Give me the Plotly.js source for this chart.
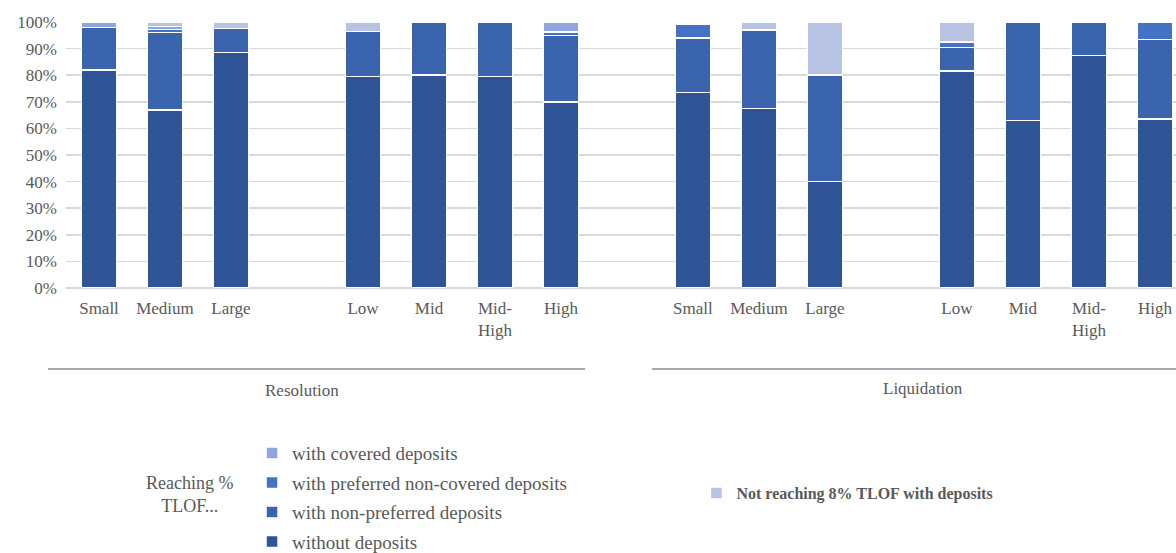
<!DOCTYPE html>
<html>
<head>
<meta charset="utf-8">
<script src="https://cdn.plot.ly/plotly-3.0.1.min.js"></script>
<style>html,body{margin:0;padding:0;background:#fff;}#chart{width:1176px;height:553px;}</style>
</head>
<body>
<div id="chart"></div>
<script>
// Category labels
const sizeCats = ['Small', 'Medium', 'Large'];
const riskCats = ['Low', 'Mid', 'Mid-High', 'High'];
const riskTickText = ['Low', 'Mid', 'Mid-<br>High', 'High'];
const groupNames = ['Resolution', 'Liquidation'];

// Series names
const seriesNames = ['without deposits', 'with non-preferred deposits', 'with preferred non-covered deposits', 'with covered deposits', 'Not reaching 8% TLOF with deposits'];

// Resolution values (%), order: Small, Medium, Large, Low, Mid, Mid-High, High
const resWithout   = [82, 67, 88.5, 79.5, 80, 79.5, 70];
const resNonPref   = [16, 29, 9, 17, 20, 20.5, 25];
const resPref      = [0, 1.2, 0, 0, 0, 0, 1.2];
const resCovered   = [2, 1.2, 0, 0, 0, 0, 3.8];
const resNotReach  = [0, 1.6, 2.5, 3.5, 0, 0, 0];

// Liquidation values (%)
const liqWithout   = [73.5, 67.5, 40, 81.5, 63, 87.5, 63.5];
const liqNonPref   = [20.5, 29.5, 40, 9, 37, 12.5, 30];
const liqPref      = [5, 0, 0, 2, 0, 0, 6.5];
const liqCovered   = [0, 0, 0, 0, 0, 0, 0];
const liqNotReach  = [0, 3, 20, 7.5, 0, 0, 0];

const colors = ['#2F5597', '#3A64AD', '#4472C4', '#8FA6DA', '#B8C2E3'];

// Build category keys (with empty gap slots between groups)
const keys = [], tickText = [];
function addGroup(prefix, withLeadGap) {
  if (withLeadGap) { keys.push(prefix + '_gap0'); tickText.push(''); }
  sizeCats.forEach(c => { keys.push(prefix + '_' + c); tickText.push(c); });
  keys.push(prefix + '_gap1'); tickText.push('');
  riskCats.forEach((c, i) => { keys.push(prefix + '_' + c); tickText.push(riskTickText[i]); });
}
addGroup('R', false);
addGroup('L', true);

const cats = sizeCats.concat(riskCats);
const resSeries = [resWithout, resNonPref, resPref, resCovered, resNotReach];
const liqSeries = [liqWithout, liqNonPref, liqPref, liqCovered, liqNotReach];

const traces = seriesNames.map((name, s) => {
  const x = [], y = [];
  keys.forEach(k => {
    const g = k.slice(0, 1), c = k.slice(2);
    const idx = cats.indexOf(c);
    x.push(k);
    if (idx < 0) { y.push(null); return; }
    const v = (g === 'R' ? resSeries : liqSeries)[s][idx];
    y.push(v > 0 ? v : null);
  });
  return {
    type: 'bar', name: name, x: x, y: y,
    marker: {color: colors[s], line: {color: '#FFFFFF', width: 1.5}},
    legendgroup: 'g' + s,
    legendrank: 10 - s,
    legend: s === 4 ? 'legend2' : 'legend',
    hoverinfo: 'x+y+name'
  };
});

const grey = '#595959';
const serif = 'Liberation Serif';

const layout = {
  width: 1176, height: 553,
  margin: {l: 66, r: 0, t: 22, b: 265, autoexpand: false},
  paper_bgcolor: '#FFFFFF', plot_bgcolor: '#FFFFFF',
  barmode: 'stack', bargap: 0.47,
  font: {family: serif, color: grey, size: 17},
  xaxis: {
    type: 'category', categoryorder: 'array', categoryarray: keys,
    tickmode: 'array', tickvals: keys, ticktext: tickText,
    range: [-0.5, 16.32], showgrid: false, zeroline: false, showline: false,
    ticks: '', ticklabelstandoff: 8,
    tickfont: {family: serif, size: 17, color: grey}, fixedrange: true
  },
  yaxis: {
    range: [0, 100], dtick: 10, ticksuffix: '%',
    showgrid: true, gridcolor: '#D9D9D9', gridwidth: 1.5,
    zeroline: true, zerolinecolor: '#D9D9D9', zerolinewidth: 1.5,
    showline: false, ticks: '', ticklabelstandoff: 8,
    tickfont: {family: serif, size: 17, color: grey}, fixedrange: true
  },
  showlegend: true,
  legend: {
    x: 0.1676, y: -0.549, xanchor: 'left', yanchor: 'top',
    orientation: 'v', traceorder: 'grouped', tracegroupgap: 1.8,
    font: {family: serif, size: 19, color: grey}, bgcolor: 'rgba(0,0,0,0)'
  },
  legend2: {
    x: 0.568, y: -0.707, xanchor: 'left', yanchor: 'top',
    font: {family: serif, size: 16, color: grey, weight: 'bold'}, bgcolor: 'rgba(0,0,0,0)'
  },
  shapes: [
    {type: 'line', xref: 'paper', yref: 'paper', x0: -0.0162, x1: 0.4676, y0: -0.3045, y1: -0.3045, line: {color: '#4D5666', width: 1}},
    {type: 'line', xref: 'paper', yref: 'paper', x0: 0.5279, x1: 1.0, y0: -0.3045, y1: -0.3045, line: {color: '#4D5666', width: 1}}
  ],
  annotations: [
    {text: groupNames[0], xref: 'paper', yref: 'paper', x: 0.2126, y: -0.3835, showarrow: false, xanchor: 'center', yanchor: 'middle', font: {family: serif, size: 17, color: grey}},
    {text: groupNames[1], xref: 'paper', yref: 'paper', x: 0.772, y: -0.376, showarrow: false, xanchor: 'center', yanchor: 'middle', font: {family: serif, size: 17, color: grey}},
    {text: 'Reaching %<br>TLOF...', xref: 'paper', yref: 'paper', x: 0.1117, y: -0.778, showarrow: false, xanchor: 'center', yanchor: 'middle', font: {family: serif, size: 18, color: grey}}
  ]
};

Plotly.newPlot('chart', traces, layout, {displayModeBar: false, staticPlot: true});
</script>
</body>
</html>
